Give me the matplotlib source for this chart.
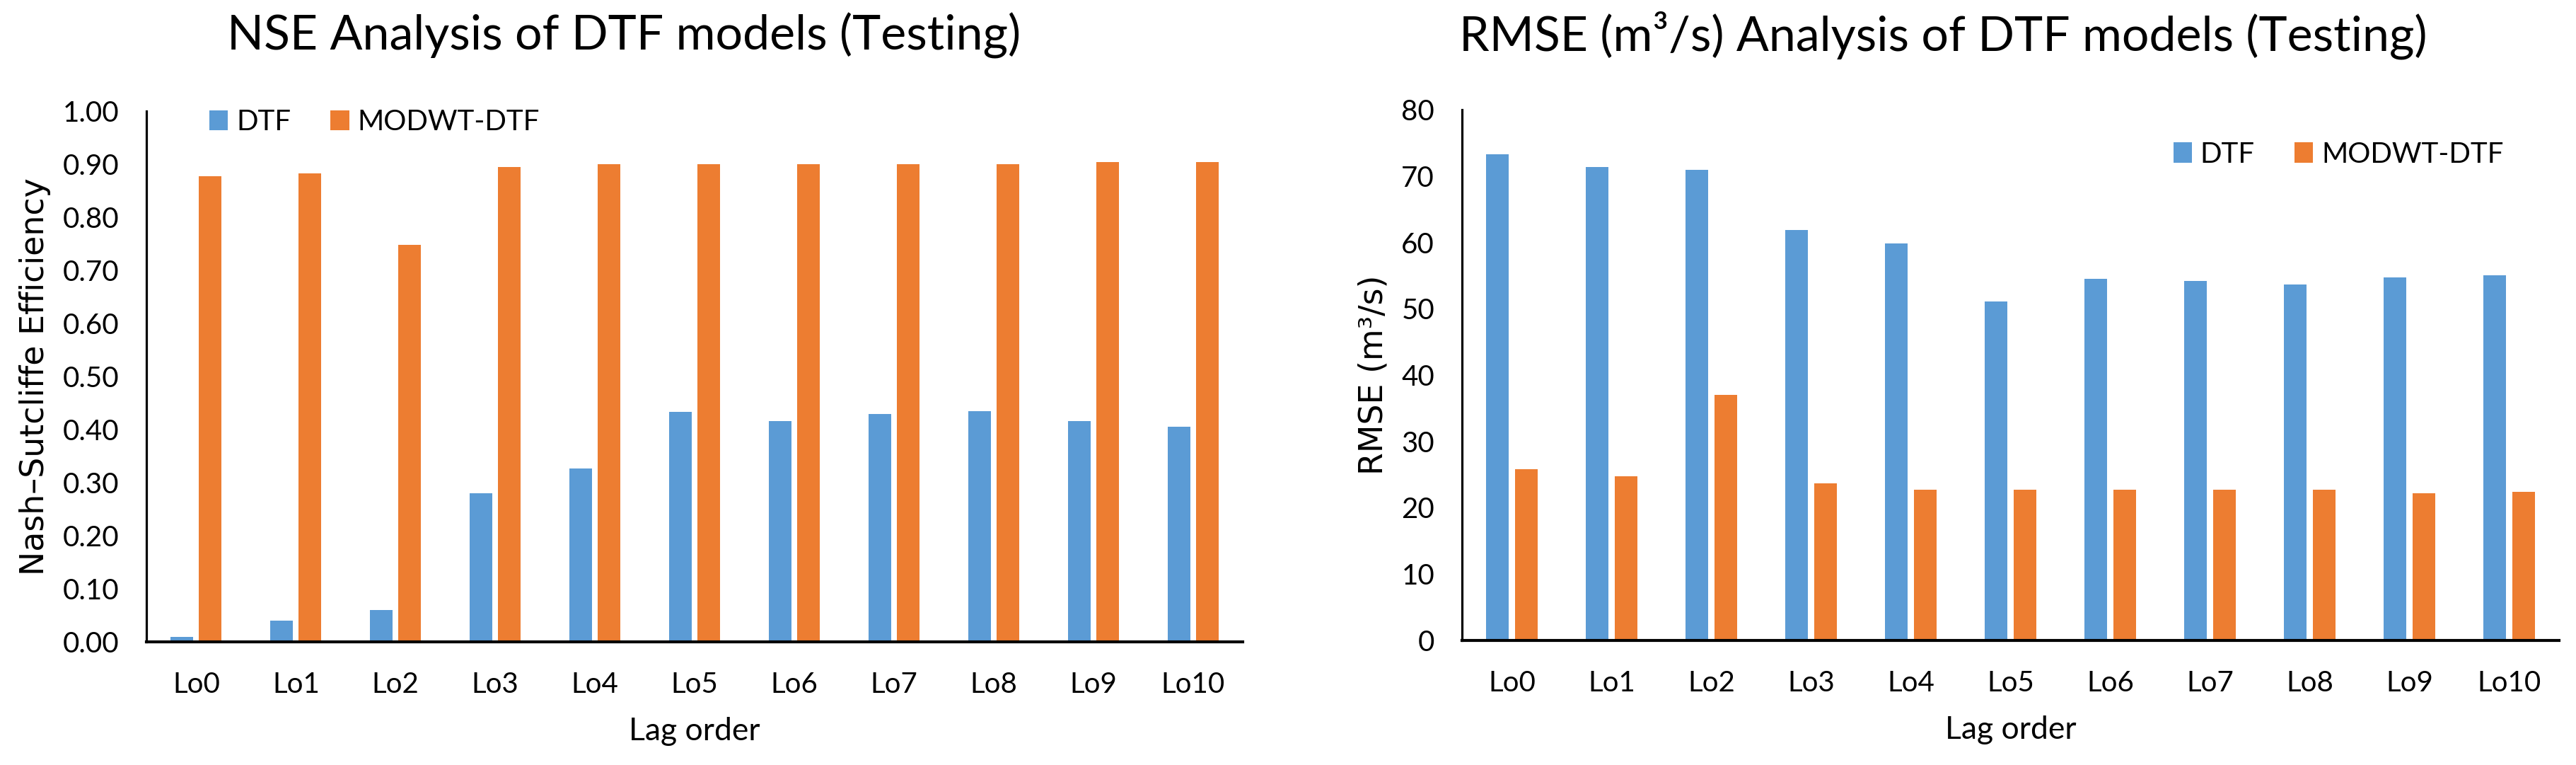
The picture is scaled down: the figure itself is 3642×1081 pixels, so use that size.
import numpy as np
import matplotlib
matplotlib.use("Agg")
import matplotlib.pyplot as plt
from matplotlib.ticker import FormatStrFormatter

# ----------------------------------------------------------------------
# data
lags = ["Lo0", "Lo1", "Lo2", "Lo3", "Lo4", "Lo5", "Lo6", "Lo7", "Lo8", "Lo9", "Lo10"]

nse_dtf = [0.01, 0.04, 0.06, 0.28, 0.327, 0.433, 0.416, 0.429, 0.435, 0.416, 0.406]
nse_modwt = [0.877, 0.883, 0.748, 0.894, 0.900, 0.900, 0.900, 0.900, 0.900, 0.904, 0.904]

rmse_dtf = [73.3, 71.4, 70.9, 61.9, 59.8, 51.1, 54.5, 54.2, 53.7, 54.7, 55.0]
rmse_modwt = [25.8, 24.8, 37.0, 23.7, 22.7, 22.7, 22.7, 22.7, 22.7, 22.2, 22.4]

# ----------------------------------------------------------------------
W, H = 3642, 1081
blue = "#5B9BD5"
orange = "#ED7D31"
txt_font = ["Lato", "DejaVu Sans"]
lab_font = ["DejaVu Sans"]

fig = plt.figure(figsize=(W / 100, H / 100), dpi=100)
fig.patch.set_facecolor("white")

width = 0.227
off = 0.142
x = np.arange(len(lags))


def draw_panel(rect, dtf, modwt, ylim, yticks, fmt, ylabel, title, title_x, leg_xy):
    ax = fig.add_axes(rect)
    ax.bar(x - off, dtf, width, color=blue, label="DTF", zorder=2)
    ax.bar(x + off, modwt, width, color=orange, label="MODWT-DTF", zorder=2)

    ax.set_xlim(-0.5, len(lags) - 0.5)
    ax.set_ylim(*ylim)
    ax.set_yticks(yticks)
    ax.yaxis.set_major_formatter(FormatStrFormatter(fmt))
    ax.set_xticks(x)
    ax.set_xticklabels(lags)

    for s in ["top", "right"]:
        ax.spines[s].set_visible(False)
    ax.spines["left"].set_linewidth(2.3)
    ax.spines["bottom"].set_linewidth(3)
    ax.spines["left"].set_zorder(3)
    ax.spines["bottom"].set_zorder(3)

    ax.tick_params(axis="both", length=0, labelsize=29)
    ax.tick_params(axis="y", pad=28)
    ax.tick_params(axis="x", pad=30)
    for lab in ax.get_xticklabels() + ax.get_yticklabels():
        lab.set_family(txt_font)

    ax.set_xlabel("Lag order", fontsize=32, family=txt_font, labelpad=20)
    ax.set_ylabel(ylabel, fontsize=33, family=lab_font, labelpad=12)

    ax.legend(
        loc="center",
        bbox_to_anchor=leg_xy,
        ncol=2,
        frameon=False,
        prop={"family": txt_font, "size": 29},
        handlelength=0.65,
        handleheight=0.7,
        handletextpad=0.3,
        columnspacing=1.4,
    )

    fig.text(title_x, 1 - 50 / H, title, ha="center", va="center",
             fontsize=49, family=txt_font)
    return ax


ax1 = draw_panel(
    [207 / W, (H - 907) / H, 1550 / W, 750 / H],
    nse_dtf, nse_modwt,
    (0, 1.0), np.arange(0, 1.01, 0.1), "%.2f",
    "Nash\u2013Sutcliffe Efficiency",
    "NSE Analysis of DTF models (Testing)",
    882 / W, (0.208, 0.979),
)

ax2 = draw_panel(
    [2067 / W, (H - 905) / H, 1551 / W, 750 / H],
    rmse_dtf, rmse_modwt,
    (0, 80), np.arange(0, 81, 10), "%d",
    "RMSE (m\u00b3/s)",
    "RMSE (m\u00b3/s) Analysis of DTF models (Testing)",
    2747 / W, (0.799, 0.916),
)

fig.savefig("out.png", dpi=100)
